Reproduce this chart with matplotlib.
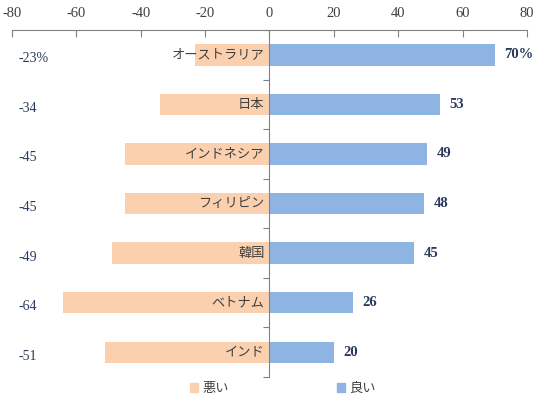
import numpy as np
import matplotlib
matplotlib.use('Agg')
import matplotlib.pyplot as plt
from matplotlib.patches import Patch

plt.rcParams['font.family'] = ['Noto Sans CJK JP', 'DejaVu Sans']

# data (top to bottom)
countries = ['オーストラリア', '日本', 'インドネシア', 'フィリピン', '韓国', 'ベトナム', 'インド']
bad = [-23, -34, -45, -45, -49, -64, -51]
good = [70, 53, 49, 48, 45, 26, 20]
bad_labels = ['-23%', '-34', '-45', '-45', '-49', '-64', '-51']
good_labels = ['70%', '53', '49', '48', '45', '26', '20']
xticks = [-80, -60, -40, -20, 0, 20, 40, 60, 80]
xtick_labels = ['-80', '-60', '-40', '-20', '0', '20', '40', '60', '80']

c_bad = '#FAD0AE'
c_good = '#8EB4E3'
navy = '#2B3A5C'
gray = '#808080'

fig = plt.figure(figsize=(5.4, 4.01), dpi=100)
ax = fig.add_axes([0.022, 0.06, 0.954, 0.865])

y = np.arange(len(countries))
ax.barh(y, bad, height=0.43, color=c_bad)
ax.barh(y, good, height=0.43, color=c_good)

ax.set_xlim(-80, 80)
ax.set_ylim(len(countries) - 0.5, -0.5)

# country names inside the negative bars
for i, name in enumerate(countries):
    ax.text(-1.5, i, name, ha='right', va='center', fontsize=9.5, color='#404040')

# negative values at the left edge
for i, lab in enumerate(bad_labels):
    ax.text(-78, i + 0.08, lab, ha='left', va='center', fontsize=10,
            family='Liberation Serif', color=navy)

# positive values after the bars
for i, (v, lab) in enumerate(zip(good, good_labels)):
    ax.text(v + 3, i, lab, ha='left', va='center', fontsize=10.5,
            family='Liberation Serif', fontweight='bold', color=navy)

# axes styling
for s in ['right', 'bottom']:
    ax.spines[s].set_visible(False)
ax.spines['top'].set_color(gray)
ax.spines['left'].set_position(('data', 0))
ax.spines['left'].set_color(gray)
ax.xaxis.tick_top()
ax.set_xticks(xticks)
ax.set_xticklabels(xtick_labels, family='Liberation Serif', fontsize=10.5, color='#404040')
ax.tick_params(axis='x', direction='in', length=5, color=gray, pad=7)
ax.set_yticks(np.arange(len(countries) + 1) - 0.5)
ax.set_yticklabels([])
ax.tick_params(axis='y', direction='out', length=4, color=gray)

handles = [Patch(color=c_bad, label='悪い'), Patch(color=c_good, label='良い')]
fig.legend(handles=handles, loc='lower center', bbox_to_anchor=(0.524, -0.015), ncol=2,
           frameon=False, fontsize=9.5, handlelength=0.6, handleheight=0.6,
           handletextpad=0.3, columnspacing=8.2, labelcolor='#404040')

fig.savefig('out.png', dpi=100)
